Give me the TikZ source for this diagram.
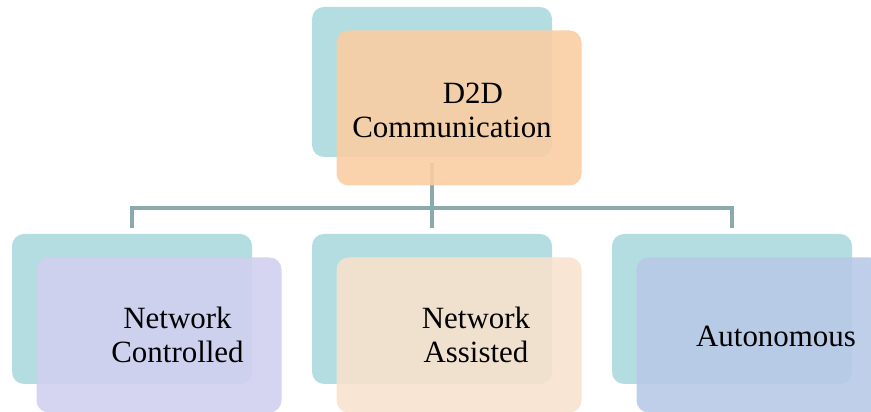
\documentclass[tikz,border=0pt]{standalone}
\usepackage{fontspec}
\setmainfont{Liberation Serif}
\newfontfamily\boxfont{Liberation Serif}
\usepackage{tikz}
\usetikzlibrary{positioning}
\definecolor{tealback}{HTML}{B3DDE0}
\definecolor{orangefront}{HTML}{F9CEA3}
\definecolor{lavfront}{HTML}{D0D0EF}
\definecolor{peachfront}{HTML}{F7E2CE}
\definecolor{bluefront}{HTML}{B8CAE8}
\definecolor{connline}{HTML}{8AAAAC}
\tikzset{
  backbox/.style={fill=tealback, rounded corners=0.24cm, minimum width=4.8cm, minimum height=3.0cm, inner sep=0pt},
  frontbox/.style={fill=#1, fill opacity=0.9, rounded corners=0.24cm, minimum width=4.9cm, minimum height=3.1cm, inner sep=0pt},
  conn/.style={draw=connline, line width=0.08cm},
  lbl/.style={align=center, inner sep=0pt, font=\boxfont\fontsize{17.6}{19.3}\selectfont}
}

\begin{document}
\begin{tikzpicture}

\useasboundingbox (0,0) rectangle (17.42,8.24);

% Back boxes
\node[backbox] (d2dback) at (8.64,6.6) {};
\node[backbox] (ctrlback) at (2.64,2.06) {};
\node[backbox] (asstback) at (8.64,2.06) {};
\node[backbox] (autoback) at (14.64,2.06) {};

% Connectors
\coordinate (bus) at (8.64,4.08);
\draw[conn, shorten <=0.12cm] (d2dback.south) -- (bus);
\draw[conn, shorten >=0.12cm] (bus) -| (ctrlback.north);
\draw[conn, shorten >=0.12cm] (bus) -- (asstback.north);
\draw[conn, shorten >=0.12cm] (bus) -| (autoback.north);

% Front boxes
\node[frontbox=orangefront] (d2d) at (9.18,6.08) {};
\node[frontbox=lavfront] (ctrl) at (3.18,1.54) {};
\node[frontbox=peachfront] (asst) at (9.18,1.54) {};
\node[frontbox=bluefront] (auto) at (15.18,1.54) {};

% Labels
\node[lbl] (d2dtxt) at ([xshift=-0.14cm,yshift=-0.04cm]d2d.center) {\hspace*{1.35em}D2D\\Communication};
\node[lbl] (ctrltxt) at ([xshift=0.37cm]ctrl.center) {Network\\Controlled};
\node[lbl] (assttxt) at ([xshift=0.34cm]asst.center) {Network\\Assisted};
\node[lbl] (autotxt) at ([xshift=0.34cm,yshift=-0.02cm]auto.center) {Autonomous};

\end{tikzpicture}
\end{document}
